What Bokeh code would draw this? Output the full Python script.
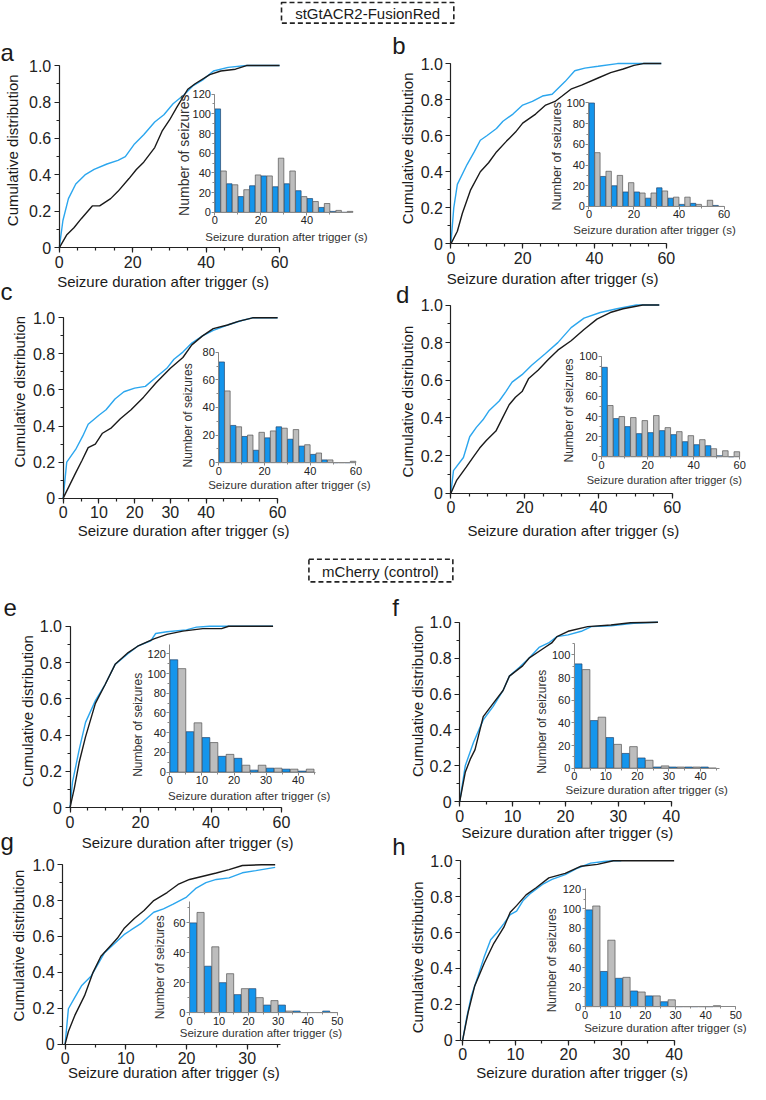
import math
from bokeh.plotting import figure
from bokeh.models import Range1d, LinearAxis, FixedTicker, PrintfTickFormatter
from bokeh.core.properties import value
from bokeh.embed import file_html
from bokeh.resources import INLINE

# ---------------- data ----------------
bin_starts = [0, 5, 10, 15, 20, 25, 30, 35, 40, 45, 50, 55]

a_t_blue = [0, 1, 2.5, 4.5, 7, 9.5, 13, 16, 18, 20.5, 23, 26, 28.5, 31, 34, 36.5, 39, 42, 46, 51, 60]
a_cdf_blue = [0, 0.15, 0.27, 0.35, 0.40, 0.43, 0.46, 0.48, 0.50, 0.57, 0.62, 0.69, 0.73, 0.79, 0.84, 0.89, 0.92, 0.97, 0.99, 1.0, 1.0]
a_t_black = [0, 2, 4, 6, 9, 11, 14, 16, 19, 21, 23, 26, 28, 30, 32, 35, 37, 41, 44, 48, 51, 60]
a_cdf_black = [0, 0.07, 0.11, 0.16, 0.23, 0.23, 0.27, 0.31, 0.38, 0.43, 0.47, 0.55, 0.64, 0.70, 0.77, 0.87, 0.90, 0.95, 0.97, 0.98, 1.0, 1.0]
a_hist_blue = [105, 29, 16, 27, 37, 26, 29, 22, 14, 5, 1, 0]
a_hist_gray = [42, 28, 23, 38, 37, 55, 42, 16, 11, 9, 2, 1]

b_t_blue = [0, 0.8, 1.8, 4.5, 6.5, 8.2, 10, 12.7, 14.5, 17.3, 20, 22.7, 25.5, 28.2, 31.8, 34.5, 37.3, 41, 46.4, 58.6]
b_cdf_blue = [0, 0.2, 0.33, 0.44, 0.51, 0.575, 0.60, 0.64, 0.68, 0.72, 0.77, 0.79, 0.82, 0.83, 0.90, 0.96, 0.975, 0.985, 1.0, 1.0]
b_t_black = [0, 1.8, 3.2, 5.5, 8.2, 10.5, 12.7, 15.5, 18, 20, 23.6, 26.4, 29, 31, 33.6, 36.4, 41, 44.5, 48, 51, 53.6, 58.6]
b_cdf_black = [0, 0.07, 0.17, 0.30, 0.40, 0.45, 0.51, 0.57, 0.62, 0.67, 0.72, 0.77, 0.79, 0.82, 0.86, 0.88, 0.92, 0.95, 0.97, 0.99, 1.0, 1.0]
b_hist_blue = [100, 29, 20, 14, 14, 8, 18, 8, 2, 3, 0, 1]
b_hist_gray = [52, 34, 30, 23, 13, 13, 15, 9, 9, 2, 6, 0]

c_t_blue = [0, 1, 3.5, 5.5, 7, 10, 12, 14.5, 17, 20, 23, 26, 29, 31, 33.5, 36, 39, 42, 46, 50, 53, 60]
c_cdf_blue = [0, 0.20, 0.27, 0.345, 0.41, 0.46, 0.49, 0.55, 0.59, 0.61, 0.62, 0.67, 0.72, 0.77, 0.81, 0.86, 0.90, 0.93, 0.96, 0.985, 1.0, 1.0]
c_t_black = [0, 1.5, 3.5, 5.3, 7, 9, 11, 13.5, 16, 19, 22.5, 26, 30, 33.5, 36, 39, 42, 46, 49, 53, 60]
c_cdf_black = [0, 0.06, 0.14, 0.21, 0.28, 0.30, 0.36, 0.39, 0.44, 0.49, 0.56, 0.64, 0.72, 0.78, 0.85, 0.90, 0.94, 0.96, 0.98, 1.0, 1.0]
c_hist_blue = [73, 27, 19, 9, 18, 26, 17, 12, 6, 2, 0, 0]
c_hist_gray = [52, 26, 20, 22, 23, 25, 24, 13, 7, 2, 0, 1]

d_t_blue = [0, 0.7, 3.4, 5.1, 6.9, 8.7, 10.4, 13.1, 14.9, 16.6, 19.3, 21.9, 25.5, 29, 32.6, 36.1, 40.5, 45, 50.3, 56.5]
d_cdf_blue = [0, 0.12, 0.19, 0.30, 0.35, 0.39, 0.44, 0.49, 0.54, 0.59, 0.63, 0.68, 0.74, 0.80, 0.88, 0.93, 0.96, 0.98, 1.0, 1.0]
d_t_black = [0, 1.6, 4.2, 6, 7.8, 9.6, 12.2, 14, 15.8, 17.5, 19.3, 21.1, 23.7, 26.4, 29, 32.6, 36.1, 39.6, 43.2, 46.7, 52, 56.5]
d_cdf_black = [0, 0.07, 0.14, 0.19, 0.24, 0.28, 0.33, 0.40, 0.47, 0.51, 0.54, 0.61, 0.655, 0.71, 0.76, 0.81, 0.87, 0.925, 0.96, 0.98, 1.0, 1.0]
d_hist_blue = [89, 38, 30, 23, 24, 26, 22, 15, 12, 11, 1, 0]
d_hist_gray = [51, 40, 39, 36, 41, 29, 25, 21, 17, 8, 6, 5]

e_t_blue = [0, 0.7, 2.6, 4.4, 7.2, 10, 12.8, 16.5, 19.2, 22.9, 24.3, 27.5, 33, 35.9, 39.6, 57.6]
e_cdf_blue = [0, 0.14, 0.32, 0.47, 0.59, 0.68, 0.79, 0.85, 0.89, 0.92, 0.96, 0.97, 0.98, 0.995, 1.0, 1.0]
e_t_black = [0, 1.2, 2.6, 4.4, 7.2, 10, 12.8, 16.5, 19.2, 23.8, 27.5, 32, 37.7, 43, 45, 57.6]
e_cdf_black = [0, 0.105, 0.25, 0.39, 0.575, 0.68, 0.79, 0.855, 0.89, 0.93, 0.955, 0.973, 0.987, 0.987, 1.0, 1.0]
e_hist_blue = [114, 41, 35, 16, 14, 2, 4, 3, 1]
e_hist_gray = [105, 50, 30, 18, 7, 7, 4, 3, 3]

f_t_blue = [0, 1.05, 2.6, 4.45, 6.3, 8.2, 9.4, 11.3, 13.1, 15, 16.8, 18.4, 20.5, 23, 24.9, 28.6, 32.9, 37.5]
f_cdf_blue = [0, 0.20, 0.33, 0.456, 0.53, 0.62, 0.70, 0.75, 0.80, 0.86, 0.885, 0.92, 0.93, 0.95, 0.976, 0.98, 0.995, 1.0]
f_t_black = [0, 1.05, 2, 2.9, 4.45, 6.3, 8.2, 9.4, 11.9, 13.1, 15.6, 17.4, 18.4, 20.5, 24.2, 28.6, 32.3, 37.5]
f_cdf_black = [0, 0.164, 0.237, 0.29, 0.474, 0.547, 0.62, 0.70, 0.757, 0.80, 0.85, 0.885, 0.92, 0.95, 0.976, 0.985, 0.998, 1.0]
f_hist_blue = [92, 42, 27, 13, 9, 1, 1, 1, 1]
f_hist_gray = [87, 45, 21, 19, 7, 2, 1, 1, 0]

g_t_blue = [0, 0.54, 1.6, 2.7, 4.3, 6.5, 8.1, 9.7, 10.8, 12.4, 14.6, 16.2, 17.8, 20, 21.6, 23.2, 24.9, 27, 29.2, 31.4, 34.6]
g_cdf_blue = [0, 0.197, 0.26, 0.325, 0.38, 0.51, 0.56, 0.61, 0.635, 0.67, 0.735, 0.754, 0.78, 0.82, 0.87, 0.90, 0.918, 0.927, 0.955, 0.967, 0.985]
g_t_black = [0, 0.54, 1.6, 3.2, 4.6, 5.9, 7.6, 8.6, 9.7, 11.4, 13, 14.6, 16.8, 18.6, 20.5, 22.7, 24.9, 27, 29.2, 32.4, 34.6]
g_cdf_black = [0, 0.07, 0.16, 0.27, 0.40, 0.49, 0.553, 0.59, 0.644, 0.70, 0.745, 0.80, 0.845, 0.89, 0.918, 0.936, 0.954, 0.973, 0.996, 1.0, 1.0]
g_hist_blue = [60, 31, 20, 12, 16, 5, 5, 1, 0, 1]
g_hist_gray = [67, 44, 26, 16, 10, 8, 1, 0, 0, 0]

h_t_blue = [0, 0.73, 1.65, 2.9, 4.1, 5.3, 6.5, 7.8, 9, 10.2, 11.4, 12.9, 15.1, 16.9, 19.4, 21.8, 24.2, 26.7, 28.5, 30]
h_cdf_blue = [0, 0.12, 0.247, 0.356, 0.466, 0.56, 0.60, 0.65, 0.70, 0.72, 0.777, 0.82, 0.868, 0.896, 0.923, 0.96, 0.987, 0.996, 1.0, 1.0]
h_t_black = [0, 1.04, 2.26, 4.1, 5.9, 7.8, 9, 10.2, 12, 13.9, 16.3, 19.4, 22.4, 25.5, 28.5, 40]
h_cdf_black = [0, 0.155, 0.30, 0.43, 0.54, 0.63, 0.713, 0.75, 0.81, 0.85, 0.905, 0.93, 0.97, 0.98, 1.0, 1.0]
h_hist_blue = [99, 36, 29, 16, 11, 5, 0, 0, 0]
h_hist_gray = [103, 68, 30, 15, 11, 7, 0, 0, 1]

cdf_ticks = [0, 0.2, 0.4, 0.6, 0.8, 1.0]
group_titles = ["stGtACR2-FusionRed", "mCherry (control)"]
y_title = "Cumulative distribution"
x_title = "Seizure duration after trigger (s)"
inset_y_title = "Number of seizures"

# ---------------- layout ----------------
W, H = 750, 1084
SX, SY = W / 766.0, H / 1100.0
FONT = "Liberation Sans"
BLUE_LINE = "#2ba6ee"
BLUE_BAR = "#1495ec"
BLUE_EDGE = "#24446a"
GRAY_BAR = "#bdbdbd"
GRAY_EDGE = "#555555"
BLACK = "#1a1a1a"

panels = {
    "a": dict(tb=a_t_blue, cb=a_cdf_blue, tk=a_t_black, ck=a_cdf_black, hb=a_hist_blue, hg=a_hist_gray,
              mx=(60, 0, 285, 60), my=(251, 0, 66, 1), ix=(219, 0, 313, 40), iy=(215, 0, 95, 120),
              mxb=(0, 60), ixb=(0, 59), iyb=(0, 120), mxt=[0, 20, 40, 60], mxm=5,
              ixt=[0, 20, 40], ixm=10, iyt=[0, 20, 40, 60, 80, 100, 120], iym=10, y0=0,
              letter=(0, 53), ylab=(12, 152), xlab=(166, 285), iylab=(187, 157, 14), ixlab=(292, 240, 11.5)),
    "b": dict(tb=b_t_blue, cb=b_cdf_blue, tk=b_t_black, ck=b_cdf_black, hb=b_hist_blue, hg=b_hist_gray,
              mx=(460, 0, 680, 60), my=(247, 0, 64, 1), ix=(601, 0, 739, 60), iy=(209, 0, 104, 100),
              mxb=(0, 60), ixb=(0, 60), iyb=(0, 100), mxt=[0, 20, 40, 60], mxm=5,
              ixt=[0, 20, 40, 60], ixm=10, iyt=[0, 20, 40, 60, 80, 100], iym=10, y0=0,
              letter=(400, 46), ylab=(416, 150), xlab=(564, 282), iylab=(568, 158, 12.5), ixlab=(668, 233, 11.5)),
    "c": dict(tb=c_t_blue, cb=c_cdf_blue, tk=c_t_black, ck=c_cdf_black, hb=c_hist_blue, hg=c_hist_gray,
              mx=(64, 0, 283, 60), my=(505, 0, 322, 1), ix=(223, 0, 363, 60), iy=(469, 0, 357, 80),
              mxb=(0, 60), ixb=(0, 60), iyb=(0, 80), mxt=[0, 10, 20, 30, 40, 60], mxm=5,
              ixt=[0, 20, 40, 60], ixm=10, iyt=[0, 20, 40, 60, 80], iym=10, y0=0,
              letter=(0, 295), ylab=(19, 397), xlab=(187, 538), iylab=(192, 421, 12), ixlab=(295, 492, 11.5)),
    "d": dict(tb=d_t_blue, cb=d_cdf_blue, tk=d_t_black, ck=d_cdf_black, hb=d_hist_blue, hg=d_hist_gray,
              mx=(460, 0, 686, 60), my=(500, 0, 309, 1), ix=(614, 0, 755, 60), iy=(463, 0, 361, 100),
              mxb=(0, 60), ixb=(0, 60), iyb=(0, 100), mxt=[0, 20, 40, 60], mxm=5,
              ixt=[0, 20, 40, 60], ixm=10, iyt=[0, 20, 40, 60, 80, 100], iym=10, y0=0,
              letter=(404, 298), ylab=(416, 407), xlab=(585, 538), iylab=(581, 416, 12), ixlab=(678, 487, 11)),
    "e": dict(tb=e_t_blue, cb=e_cdf_blue, tk=e_t_black, ck=e_cdf_black, hb=e_hist_blue, hg=e_hist_gray,
              mx=(71, 0, 287, 60), my=(819, 0, 635, 1), ix=(173, 0, 304, 40), iy=(783, 0, 663, 120),
              mxb=(0, 60), ixb=(0, 45.5), iyb=(0, 129), mxt=[0, 20, 40, 60], mxm=5,
              ixt=[0, 10, 20, 30, 40], ixm=5, iyt=[0, 20, 40, 60, 80, 100, 120], iym=10, y0=0,
              letter=(3, 616), ylab=(28, 721), xlab=(191, 854), iylab=(140, 735, 12), ixlab=(254, 807, 11.5)),
    "f": dict(tb=f_t_blue, cb=f_cdf_blue, tk=f_t_black, ck=f_cdf_black, hb=f_hist_blue, hg=f_hist_gray,
              mx=(469, 0, 685, 40), my=(813, 0, 631, 1), ix=(586, 0, 715, 40), iy=(779, 0, 664, 100),
              mxb=(0, 40), ixb=(0, 46), iyb=(0, 110), mxt=[0, 10, 20, 30, 40], mxm=5,
              ixt=[0, 10, 20, 30, 40], ixm=5, iyt=[0, 20, 40, 60, 80, 100], iym=10, y0=0,
              letter=(400, 616), ylab=(426, 711), xlab=(579, 844), iylab=(553, 732, 12), ixlab=(660, 801, 11.5)),
    "g": dict(tb=g_t_blue, cb=g_cdf_blue, tk=g_t_black, ck=g_cdf_black, hb=g_hist_blue, hg=g_hist_gray,
              mx=(66, 0, 252, 30), my=(1059, 0, 877, 1), ix=(193, 0, 344, 50), iy=(1027, 0, 936, 60),
              mxb=(-0.4, 35.5), ixb=(0, 50), iyb=(0, 74), mxt=[0, 10, 20, 30], mxm=5,
              ixt=[0, 10, 20, 30, 40, 50], ixm=5, iyt=[0, 20, 40, 60], iym=10, y0=-0.4,
              letter=(0, 853), ylab=(18, 959), xlab=(177, 1088), iylab=(163, 981, 12), ixlab=(266, 1048, 11.5)),
    "h": dict(tb=h_t_blue, cb=h_cdf_blue, tk=h_t_black, ck=h_cdf_black, hb=h_hist_blue, hg=h_hist_gray,
              mx=(472, 0, 688, 40), my=(1055, 0, 873, 1), ix=(597, 0, 751, 50), iy=(1021, 0, 902, 120),
              mxb=(-0.4, 40), ixb=(0, 50), iyb=(0, 121), mxt=[0, 10, 20, 30, 40], mxm=5,
              ixt=[0, 10, 20, 30, 40, 50], ixm=5, iyt=[0, 20, 40, 60, 80, 100, 120], iym=10, y0=-0.4,
              letter=(400, 858), ylab=(426, 971), xlab=(594, 1088), iylab=(563, 974, 12), ixlab=(679, 1043, 11.5)),
}


def xrange_for(p0, d0, p1, d1):
    q0, q1 = p0 * SX, p1 * SX
    s = (q1 - q0) / (d1 - d0)
    start = d0 - q0 / s
    return Range1d(start=start, end=start + W / s)


def yrange_for(p0, d0, p1, d1):
    b0, b1 = H - p0 * SY, H - p1 * SY
    s = (b1 - b0) / (d1 - d0)
    start = d0 - b0 / s
    return Range1d(start=start, end=start + H / s)


def steps(lo, hi, step):
    n = int(math.floor((hi - lo) / step + 1e-9))
    return [round(lo + i * step, 6) for i in range(n + 1)]


p = figure(width=W, height=H, x_range=Range1d(0, W), y_range=Range1d(H, 0),
           x_axis_type=None, y_axis_type=None, toolbar_location=None,
           output_backend="svg", min_border=0)
p.outline_line_color = None
p.background_fill_color = "white"
p.border_fill_color = "white"

xr, yr = {}, {}
for k, P in panels.items():
    xr[k + "mx"] = xrange_for(*P["mx"])
    yr[k + "my"] = yrange_for(*P["my"])
    xr[k + "ix"] = xrange_for(*P["ix"])
    yr[k + "iy"] = yrange_for(*P["iy"])
p.extra_x_ranges = xr
p.extra_y_ranges = yr


def add_axis(side, xname, yname, loc, bounds, ticks, minor, fsize, lcolor, tick_out, minor_out,
             standoff, lw, formatter=None, overrides=None):
    ax = LinearAxis(x_range_name=xname, y_range_name=yname, fixed_location=loc, bounds=bounds,
                    ticker=FixedTicker(ticks=ticks, minor_ticks=minor))
    if formatter is not None:
        ax.formatter = formatter
    if overrides:
        ax.major_label_overrides = overrides
    ax.axis_line_color = lcolor
    ax.axis_line_width = lw
    ax.major_tick_line_color = lcolor
    ax.minor_tick_line_color = lcolor
    ax.major_tick_line_width = lw
    ax.minor_tick_line_width = lw
    ax.major_tick_in = 0
    ax.major_tick_out = tick_out
    ax.minor_tick_in = 0
    ax.minor_tick_out = minor_out
    ax.major_label_standoff = standoff
    ax.major_label_text_font = FONT
    ax.major_label_text_font_size = fsize
    ax.major_label_text_color = "#222222"
    p.add_layout(ax, side)


def txt(x, y, s, size, angle=0.0, align="center", baseline="middle", color="#1a1a1a"):
    p.text(x=[x * SX], y=[y * SY], text=[s], angle=angle, text_align=align, text_baseline=baseline,
           text_font=value(FONT), text_font_size=value(size), text_color=color)


for k, P in panels.items():
    mx, my, ix, iy = k + "mx", k + "my", k + "ix", k + "iy"
    nb = len(P["hb"])
    starts = bin_starts[:nb]
    # cumulative distributions
    p.line(x=P["tb"], y=P["cb"], x_range_name=mx, y_range_name=my, line_color=BLUE_LINE, line_width=1.4)
    p.line(x=P["tk"], y=P["ck"], x_range_name=mx, y_range_name=my, line_color=BLACK, line_width=1.4)
    # inset histogram
    p.vbar(x=[s + 1.25 for s in starts], top=P["hb"], bottom=0, width=2.4, x_range_name=ix, y_range_name=iy,
           fill_color=BLUE_BAR, line_color=BLUE_EDGE, line_width=0.7)
    p.vbar(x=[s + 3.75 for s in starts], top=P["hg"], bottom=0, width=2.4, x_range_name=ix, y_range_name=iy,
           fill_color=GRAY_BAR, line_color=GRAY_EDGE, line_width=0.7)
    # main axes
    add_axis("below", mx, my, 0, P["mxb"], P["mxt"], steps(0, P["mxb"][1], P["mxm"]), "16px", "#222222",
             5, 3, 3, 1.2)
    add_axis("left", mx, my, P["y0"], (0, 1), cdf_ticks, steps(0, 1, 0.1), "16px", "#222222",
             5, 3, 3, 1.2, formatter=PrintfTickFormatter(format="%.1f"), overrides={0: "0"})
    # inset axes
    add_axis("below", ix, iy, 0, P["ixb"], P["ixt"], steps(0, P["ixb"][1], P["ixm"]), "11px", "#888888",
             3, 2, 1, 1.0)
    add_axis("left", ix, iy, 0, P["iyb"], P["iyt"], steps(0, P["iyb"][1], P["iym"]), "11px", "#888888",
             3, 2, 1, 1.0)
    # texts
    txt(P["letter"][0], P["letter"][1], k, "24px", align="left")
    txt(P["ylab"][0], P["ylab"][1], y_title, "15px", angle=math.pi / 2)
    txt(P["xlab"][0], P["xlab"][1], x_title, "15px")
    txt(P["iylab"][0], P["iylab"][1], inset_y_title, "%.1fpx" % P["iylab"][2], angle=math.pi / 2, color="#333333")
    txt(P["ixlab"][0], P["ixlab"][1], x_title, "%.1fpx" % P["ixlab"][2], color="#333333")

# group headings with dashed frames
heads = [(group_titles[0], 287, 463, 2, 23, 375, 13), (group_titles[1], 315, 462, 567, 590, 388, 579)]
for s, l, r, t, b, cx, cy in heads:
    p.quad(left=[l * SX], right=[r * SX], top=[t * SY], bottom=[b * SY], fill_color=None,
           line_color="#222222", line_width=1.6, line_dash="5 3")
    txt(cx, cy, s, "15px")

open("out.html", "w").write(file_html(p, INLINE))
